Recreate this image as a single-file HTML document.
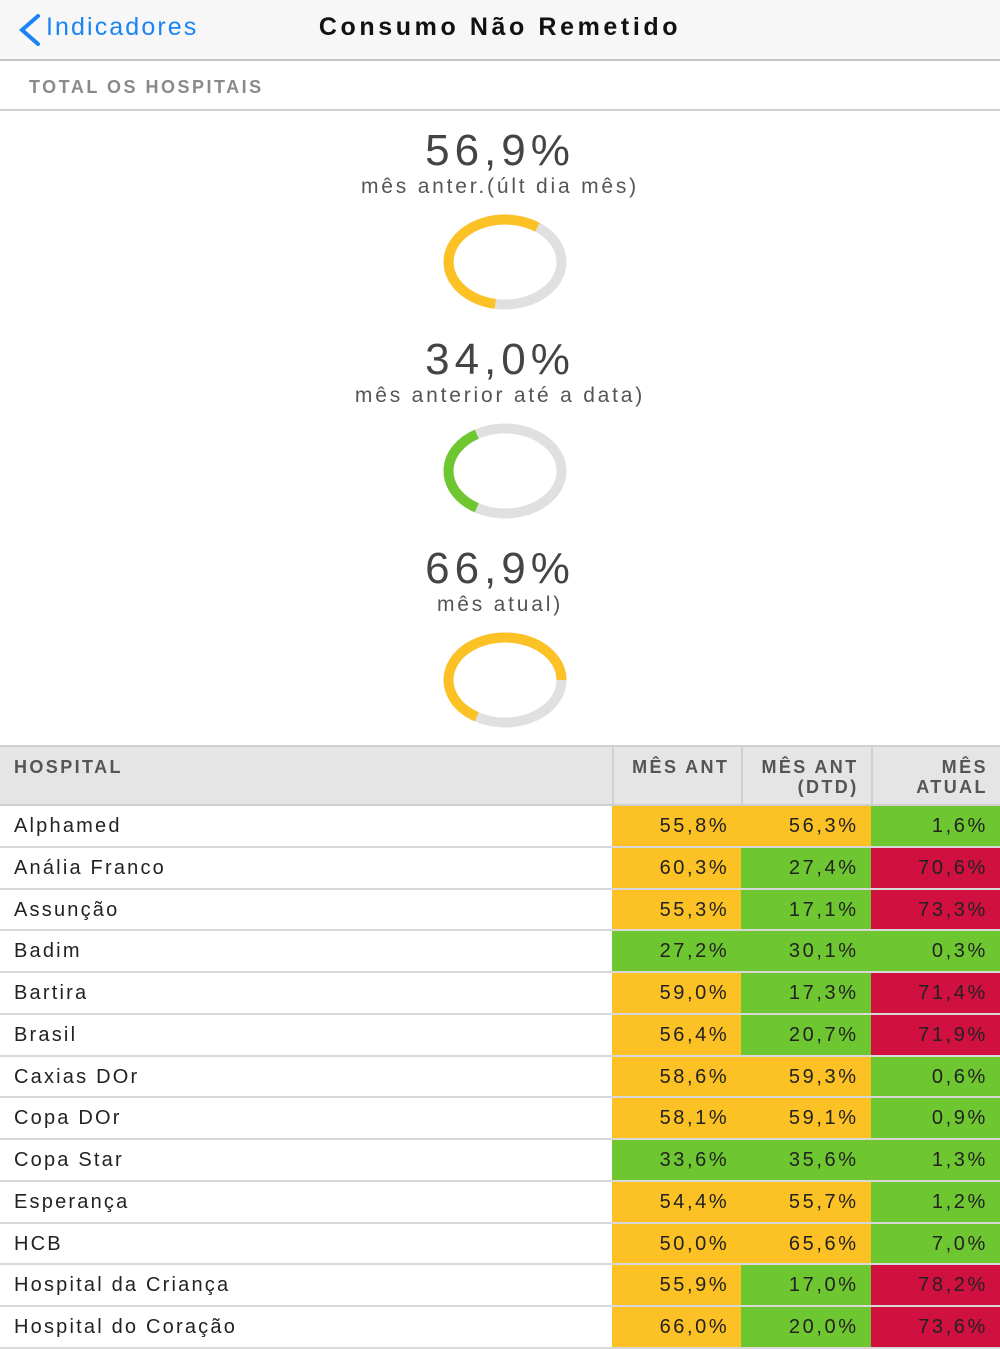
<!DOCTYPE html>
<html><head><meta charset="utf-8"><style>
*{margin:0;padding:0;box-sizing:border-box}
body{width:1000px;height:1334px;overflow:hidden;background:#fff;font-family:"Liberation Sans",sans-serif;position:relative}
.nav{position:absolute;left:0;top:0;width:1000px;height:61px;background:#f7f7f7;border-bottom:2px solid #c4c4c4}
.back{position:absolute;left:46px;top:13px;font-size:25px;color:#1a84f5;letter-spacing:2.1px}
.title{position:absolute;left:0;width:1000px;text-align:center;top:13px;font-size:25px;font-weight:bold;color:#111;letter-spacing:3.6px}
.sec{position:absolute;left:0;top:61px;width:1000px;height:50px;border-bottom:2px solid #d0d0d0}
.sec span{position:absolute;left:29px;top:16px;font-size:18px;font-weight:bold;color:#8a8a8a;letter-spacing:2.5px}
.big{position:absolute;left:0;width:1000px;text-align:center;font-size:44px;color:#444;letter-spacing:5px}
.sub{position:absolute;left:0;width:1000px;text-align:center;font-size:21px;color:#555;letter-spacing:2.8px}
.tbl{position:absolute;left:0;top:745px;width:1000px}
.hd{display:flex;height:61px;background:#e5e5e5;border-top:2px solid #cfcfcf;border-bottom:2px solid #cfcfcf}
.hd div{font-size:18px;font-weight:bold;color:#555;letter-spacing:2.4px;padding-top:10px;line-height:20px}
.row{display:flex;height:41.75px;border-bottom:2px solid #d8d8d8}
.c0{width:612px;padding-left:14px}
.c1,.c2,.c3{width:129.3px;text-align:right;padding-right:12px;border-left:2px solid #d0d0d0}
.row div{font-size:20px;color:#222;line-height:40px}
.row .c0{letter-spacing:2.2px}
.row .c1,.row .c2,.row .c3{border-left:none;letter-spacing:2.6px}
.y{background:#fcc124}.g{background:#6ec630}.r{background:#d0103f}
</style></head><body>
<div class="nav">
<svg style="position:absolute;left:14px;top:13px" width="28" height="34"><path d="M24 3 L8 17 L24 31" fill="none" stroke="#1a84f5" stroke-width="4" stroke-linecap="round"/></svg>
<div class="back">Indicadores</div>
<div class="title">Consumo Não Remetido</div>
</div>
<div class="sec"><span>TOTAL OS HOSPITAIS</span></div>

<div class="big" style="top:126px">56,9%</div>
<div class="sub" style="top:175px">mês anter.(últ dia mês)</div>
<div class="big" style="top:335px">34,0%</div>
<div class="sub" style="top:384px">mês anterior até a data)</div>
<div class="big" style="top:544px">66,9%</div>
<div class="sub" style="top:593px">mês atual)</div>

<svg style="position:absolute;left:0;top:0" width="1000" height="745">
<g fill="none" stroke-width="10">
<ellipse cx="505" cy="262" rx="56.5" ry="42.5" stroke="#e0e0e0"/>
<path d="M537.4 227.2 A56.5 42.5 0 1 0 495.2 303.9" stroke="#fcc124"/>
<ellipse cx="505" cy="471" rx="56.5" ry="42.5" stroke="#e0e0e0"/>
<path d="M476.75 434.2 A56.5 42.5 0 0 0 476.75 507.8" stroke="#6ec630"/>
<ellipse cx="505" cy="680" rx="56.5" ry="42.5" stroke="#e0e0e0"/>
<path d="M476.75 716.8 A56.5 42.5 0 1 1 561.5 680" stroke="#fcc124"/>
</g></svg>

<div class="tbl">
<div class="hd"><div class="c0">HOSPITAL</div><div class="c1">MÊS ANT</div><div class="c2">MÊS ANT<br>(DTD)</div><div class="c3">MÊS<br>ATUAL</div></div>
<div class="row"><div class="c0">Alphamed</div><div class="c1 y">55,8%</div><div class="c2 y">56,3%</div><div class="c3 g">1,6%</div></div>
<div class="row"><div class="c0">Anália Franco</div><div class="c1 y">60,3%</div><div class="c2 g">27,4%</div><div class="c3 r">70,6%</div></div>
<div class="row"><div class="c0">Assunção</div><div class="c1 y">55,3%</div><div class="c2 g">17,1%</div><div class="c3 r">73,3%</div></div>
<div class="row"><div class="c0">Badim</div><div class="c1 g">27,2%</div><div class="c2 g">30,1%</div><div class="c3 g">0,3%</div></div>
<div class="row"><div class="c0">Bartira</div><div class="c1 y">59,0%</div><div class="c2 g">17,3%</div><div class="c3 r">71,4%</div></div>
<div class="row"><div class="c0">Brasil</div><div class="c1 y">56,4%</div><div class="c2 g">20,7%</div><div class="c3 r">71,9%</div></div>
<div class="row"><div class="c0">Caxias DOr</div><div class="c1 y">58,6%</div><div class="c2 y">59,3%</div><div class="c3 g">0,6%</div></div>
<div class="row"><div class="c0">Copa DOr</div><div class="c1 y">58,1%</div><div class="c2 y">59,1%</div><div class="c3 g">0,9%</div></div>
<div class="row"><div class="c0">Copa Star</div><div class="c1 g">33,6%</div><div class="c2 g">35,6%</div><div class="c3 g">1,3%</div></div>
<div class="row"><div class="c0">Esperança</div><div class="c1 y">54,4%</div><div class="c2 y">55,7%</div><div class="c3 g">1,2%</div></div>
<div class="row"><div class="c0">HCB</div><div class="c1 y">50,0%</div><div class="c2 y">65,6%</div><div class="c3 g">7,0%</div></div>
<div class="row"><div class="c0">Hospital da Criança</div><div class="c1 y">55,9%</div><div class="c2 g">17,0%</div><div class="c3 r">78,2%</div></div>
<div class="row"><div class="c0">Hospital do Coração</div><div class="c1 y">66,0%</div><div class="c2 g">20,0%</div><div class="c3 r">73,6%</div></div>
</div>
</body></html>
